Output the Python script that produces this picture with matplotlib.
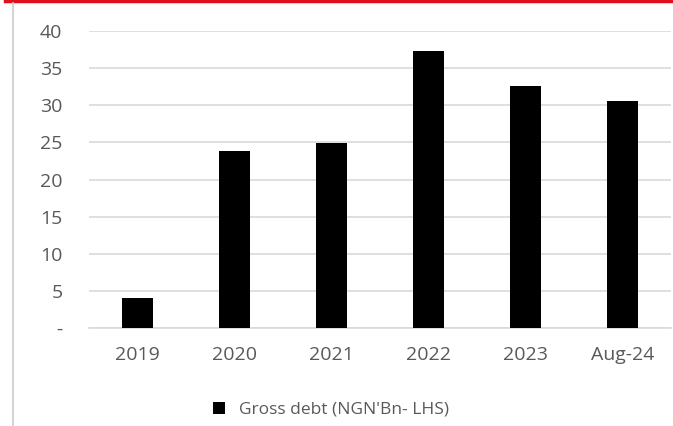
import matplotlib
matplotlib.use("Agg")
from matplotlib import pyplot as plt
from matplotlib.lines import Line2D

categories = ["2019", "2020", "2021", "2022", "2023", "Aug-24"]
gross_debt = [4.0, 23.9, 24.9, 37.3, 32.6, 30.6]
yticks = [0, 5, 10, 15, 20, 25, 30, 35, 40]
ytick_labels = ["-", "5", "10", "15", "20", "25", "30", "35", "40"]

plt.rcParams["font.family"] = ["Open Sans", "DejaVu Sans"]
grey = "#595959"

fig = plt.figure(figsize=(6.73, 4.26), dpi=100)
ax = fig.add_axes([0.132, 0.23, 0.865, 0.697])

ax.bar(categories, gross_debt, width=0.32, color="black", zorder=3,
       label="Gross debt (NGN'Bn- LHS)")
ax.set_ylim(0, 40)
ax.set_xlim(-0.5, len(categories) - 0.5)
ax.set_yticks(yticks)
ax.set_yticklabels(ytick_labels)
ax.grid(axis="y", color="#d9d9d9", linewidth=1.2, zorder=0)
for s in ax.spines.values():
    s.set_visible(False)
ax.spines["bottom"].set_visible(True)
ax.spines["bottom"].set_color("#d9d9d9")
ax.spines["bottom"].set_linewidth(1.2)
ax.tick_params(length=0, labelsize=14, labelcolor=grey)
ax.tick_params(axis="x", pad=13)
ax.tick_params(axis="y", pad=19)

fig.legend(loc="center", bbox_to_anchor=(0.492, 0.038), frameon=False,
           fontsize=12.5, labelcolor=grey, handlelength=0.7, handleheight=0.7,
           handletextpad=0.8)

# frame lines of the original report
fig.add_artist(Line2D([0.007, 1.0], [0.997, 0.997], color="#e0101e", linewidth=2.5))
fig.add_artist(Line2D([0.0195, 0.0195], [0.0, 0.993], color="#cccccc", linewidth=1.2))

fig.savefig("out.png", dpi=100)
plt.close(fig)
